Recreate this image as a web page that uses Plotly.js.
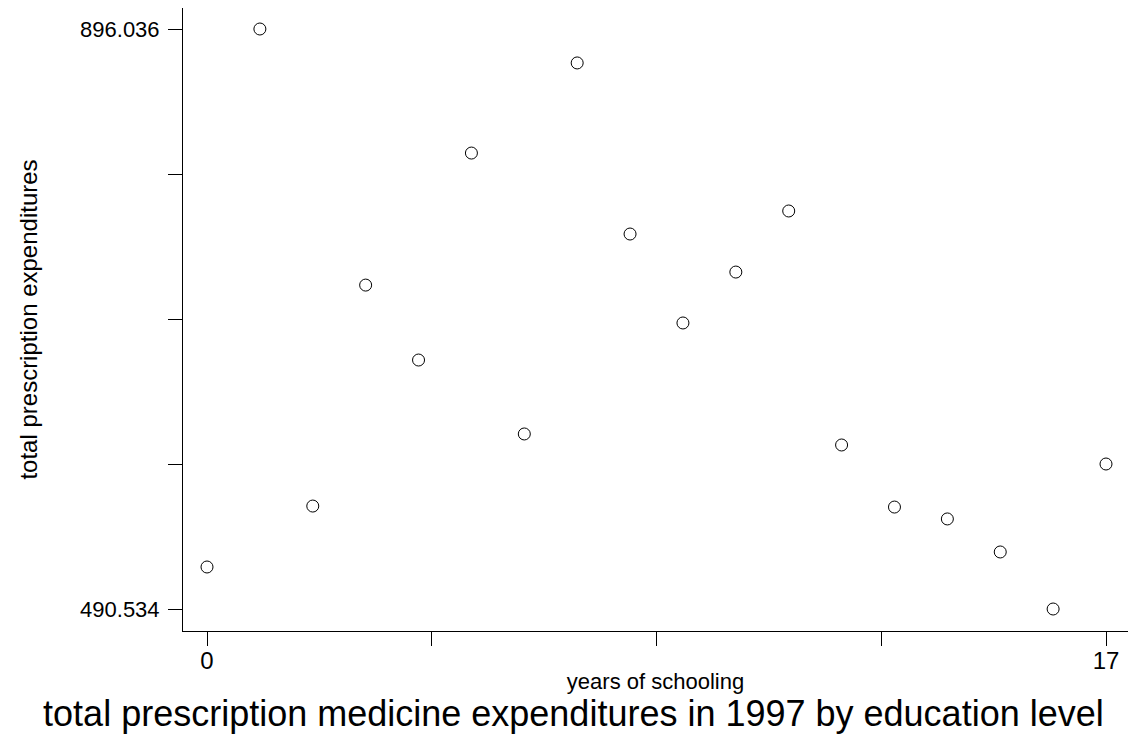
<!DOCTYPE html>
<html>
<head>
<meta charset="utf-8">
<script src="https://cdn.plot.ly/plotly-3.0.1.min.js"></script>
<style>html,body{margin:0;padding:0;background:#fff;}#chart{width:1131px;height:738px;}</style>
</head>
<body>
<div id="chart"></div>
<script>
const yearsOfSchooling = [0,1,2,3,4,5,6,7,8,9,10,11,12,13,14,15,16,17];
const expenditures = [519.9, 896.036, 562.5, 717.0, 664.6, 809.3, 612.9, 872.3, 752.7, 690.5, 726.1, 768.8, 605.2, 561.8, 553.5, 530.4, 490.534, 591.9];
const xTickVals = [0, 4.25, 8.5, 12.75, 17];
const xTickText = ['0', '', '', '', '17'];
const yTickVals = [490.534, 591.9095, 693.285, 794.6605, 896.036];
const yTickText = ['490.534', '', '', '', '896.036'];

const font = 'Liberation Sans, Arial, Helvetica, sans-serif';

const trace = {
  x: yearsOfSchooling,
  y: expenditures,
  type: 'scatter',
  mode: 'markers',
  marker: {symbol: 'circle-open', size: 12, color: '#000', line: {width: 1, color: '#000'}},
  hoverinfo: 'x+y'
};

const layout = {
  width: 1131, height: 738,
  margin: {l: 183, r: 3, t: 8, b: 107, pad: 0},
  paper_bgcolor: '#fff', plot_bgcolor: '#fff',
  showlegend: false,
  font: {family: font, color: '#000'},
  xaxis: {
    range: [-0.454, 17.416],
    tickvals: xTickVals, ticktext: xTickText,
    ticks: 'outside', ticklen: 14, tickwidth: 1, tickcolor: '#000',
    ticklabelstandoff: -6,
    showline: true, linecolor: '#000', linewidth: 1,
    showgrid: false, zeroline: false,
    tickfont: {size: 24, family: font, color: '#000'},
    title: {text: 'years of schooling', font: {size: 22, family: font, color: '#000'}, standoff: 0}
  },
  yaxis: {
    range: [475.15, 910.72],
    tickvals: yTickVals, ticktext: yTickText,
    ticks: 'outside', ticklen: 14, tickwidth: 1, tickcolor: '#000',
    ticklabelstandoff: 4,
    showline: true, linecolor: '#000', linewidth: 1,
    showgrid: false, zeroline: false,
    tickfont: {size: 22, family: font, color: '#000'},
    title: {text: 'total prescription expenditures', font: {size: 24, family: font, color: '#000'}, standoff: 35}
  },
  title: {
    text: 'total prescription medicine expenditures in 1997 by education level',
    font: {size: 36, family: font, color: '#000'},
    xref: 'container', yref: 'container',
    x: 0.507, xanchor: 'center',
    y: 0.033, yanchor: 'middle'
  }
};

Plotly.newPlot('chart', [trace], layout, {displayModeBar: false, staticPlot: true});
</script>
</body>
</html>
